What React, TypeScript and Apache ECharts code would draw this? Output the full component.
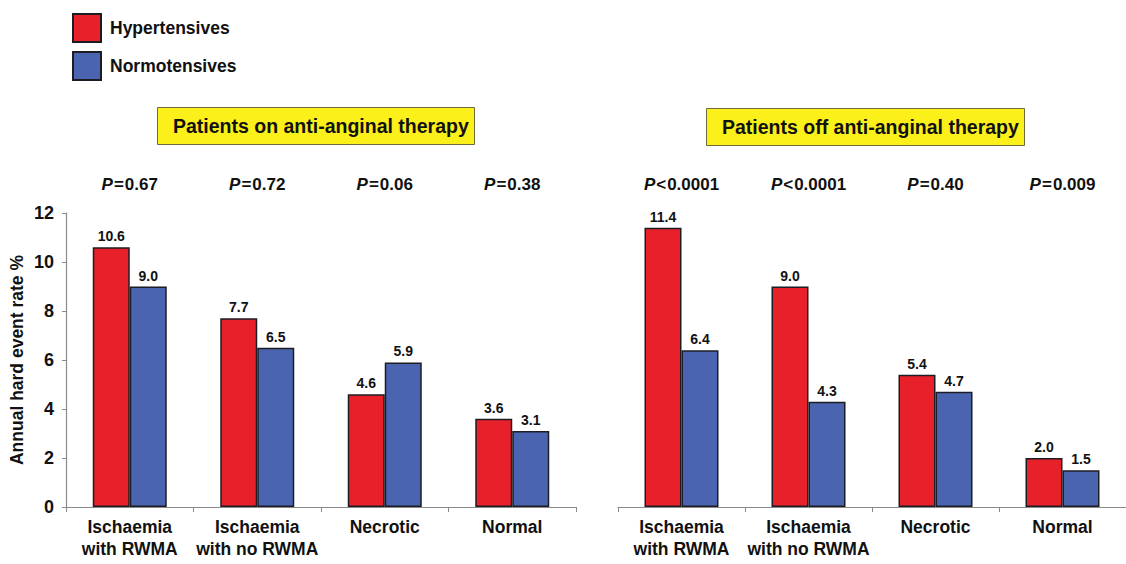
import React, { useEffect, useRef } from "react";
import * as echarts from "echarts";

// Categories of scan result
const categories = ["Ischaemia\nwith RWMA", "Ischaemia\nwith no RWMA", "Necrotic", "Normal"];

// Annual hard event rate (%) — patients on anti-anginal therapy
const onHypertensives = [10.6, 7.7, 4.6, 3.6];
const onNormotensives = [9.0, 6.5, 5.9, 3.1];
const onPValues = ["=0.67", "=0.72", "=0.06", "=0.38"];

// Annual hard event rate (%) — patients off anti-anginal therapy
const offHypertensives = [11.4, 9.0, 5.4, 2.0];
const offNormotensives = [6.4, 4.3, 4.7, 1.5];
const offPValues = ["<0.0001", "<0.0001", "=0.40", "=0.009"];

const panelTitles = ["Patients on anti-anginal therapy", "Patients off anti-anginal therapy"];
const seriesNames = ["Hypertensives", "Normotensives"];
const yAxisName = "Annual hard event rate %";

const FONT = "'Liberation Sans', Arial, Helvetica, sans-serif";
const RED = "#e8202a";
const BLUE = "#4a64b0";
const EDGE = "#1c1c24";
const AXIS = "#8a8a8a";

export default function App() {
  const ref = useRef<HTMLDivElement>(null);

  useEffect(() => {
    if (!ref.current) return;
    const chart = echarts.init(ref.current, undefined, { renderer: "svg" });

    const barLabel = {
      show: true,
      position: "top",
      distance: 4,
      fontFamily: FONT,
      fontWeight: "bold",
      fontSize: 14,
      color: "#111",
      formatter: (p: any) => Number(p.value).toFixed(1),
    };

    const catAxis = (gridIndex: number) => ({
      type: "category",
      gridIndex,
      data: categories,
      axisLine: { lineStyle: { color: AXIS, width: 1.2 } },
      axisTick: { show: true, length: 5, lineStyle: { color: AXIS } },
      axisLabel: {
        fontFamily: FONT,
        fontWeight: "bold",
        fontSize: 17.5,
        color: "#111",
        lineHeight: 22,
        margin: 9,
        interval: 0,
      },
    });

    const pAxis = (gridIndex: number, values: string[]) => ({
      type: "category",
      gridIndex,
      position: "top",
      data: values,
      axisLine: { show: false },
      axisTick: { show: false },
      axisLabel: {
        interval: 0,
        margin: 19,
        formatter: (v: string) => `{i|P}{v|${v.charAt(0)}}{n|${v.slice(1)}}`,
        rich: {
          i: { fontFamily: FONT, fontWeight: "bold", fontStyle: "italic", fontSize: 17, color: "#111", lineHeight: 20 },
          v: { fontFamily: FONT, fontWeight: "bold", fontSize: 17, color: "#111", lineHeight: 20, padding: [0, 1, 0, 1] },
          n: { fontFamily: FONT, fontWeight: "bold", fontSize: 17, color: "#111", lineHeight: 20 },
        },
      },
    });

    const barSeries = (name: string, data: number[], color: string, idx: number) => ({
      name,
      type: "bar",
      xAxisIndex: idx,
      yAxisIndex: idx,
      data,
      barWidth: 37,
      barGap: "0%",
      itemStyle: { color, borderColor: EDGE, borderWidth: 1.5 },
      label: barLabel,
    });

    const titleBox = (text: string, left: number, top: number) => ({
      text,
      left,
      top,
      backgroundColor: "#fbf01a",
      borderColor: "#6f6a3a",
      borderWidth: 1,
      padding: [9, 6, 9, 16],
      textStyle: {
        fontFamily: FONT,
        fontWeight: "bold",
        fontSize: 19.5,
        lineHeight: 20,
        color: "#111",
      },
    });

    chart.setOption({
      animation: false,
      backgroundColor: "#ffffff",
      title: [titleBox(panelTitles[0], 157, 107), titleBox(panelTitles[1], 706, 108)],
      legend: {
        orient: "vertical",
        left: 67,
        top: 8,
        itemWidth: 28,
        itemHeight: 28,
        itemGap: 8,
        icon: "rect",
        data: seriesNames,
        textStyle: { fontFamily: FONT, fontWeight: "bold", fontSize: 17.5, color: "#111", padding: [0, 0, 0, 4] },
        selectedMode: false,
      },
      grid: [
        { left: 66, top: 213, width: 510, height: 294 },
        { left: 618, top: 213, width: 513, height: 294 },
      ],
      xAxis: [catAxis(0), catAxis(1), pAxis(0, onPValues), pAxis(1, offPValues)],
      yAxis: [
        {
          type: "value",
          gridIndex: 0,
          min: 0,
          max: 12,
          interval: 2,
          name: yAxisName,
          nameLocation: "middle",
          nameGap: 40,
          nameTextStyle: { fontFamily: FONT, fontWeight: "bold", fontSize: 17.5, color: "#111" },
          axisLine: { show: true, lineStyle: { color: AXIS, width: 1.2 } },
          axisTick: { show: true, length: 4, lineStyle: { color: AXIS } },
          axisLabel: { fontFamily: FONT, fontWeight: "bold", fontSize: 18, color: "#111", margin: 12 },
          splitLine: { show: false },
        },
        {
          type: "value",
          gridIndex: 1,
          min: 0,
          max: 12,
          interval: 2,
          show: false,
          splitLine: { show: false },
        },
      ],
      series: [
        barSeries(seriesNames[0], onHypertensives, RED, 0),
        barSeries(seriesNames[1], onNormotensives, BLUE, 0),
        barSeries(seriesNames[0], offHypertensives, RED, 1),
        barSeries(seriesNames[1], offNormotensives, BLUE, 1),
      ],
    });

    return () => chart.dispose();
  }, []);

  return (
    <div
      ref={ref}
      style={{ position: "fixed", left: 0, top: 0, width: 1126, height: 564, background: "#fff" }}
    />
  );
}
